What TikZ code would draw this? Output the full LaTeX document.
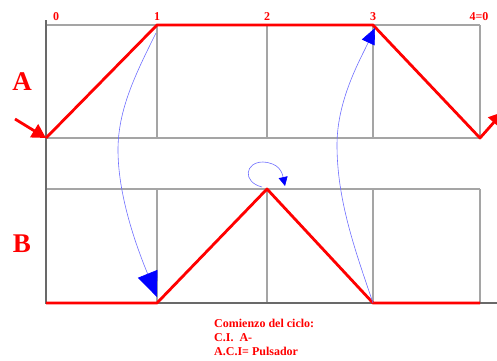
\documentclass[tikz,border=0pt]{standalone}
\usepackage{fontspec}
\setmainfont{Liberation Serif}
\usetikzlibrary{arrows.meta}
\definecolor{gridgray}{RGB}{165,165,165}
\definecolor{axisgray}{RGB}{105,105,105}
\definecolor{saltoblue}{RGB}{110,110,255}
\begin{document}
\begin{tikzpicture}[x=1pt,y=-1pt,>=stealth,
    rejilla/.style={gridgray,line width=1.3pt},
    eje/.style={axisgray,line width=1.8pt},
    fase/.style={red,line width=2.8pt,line join=round},
    salto/.style={saltoblue,line width=0.6pt},
    etapa/.style={red,font=\bfseries\fontsize{12}{13}\selectfont},
    letra/.style={red,font=\bfseries\fontsize{27}{30}\selectfont},
    nota/.style={red,font=\bfseries\fontsize{12}{14}\selectfont,align=left}]
  \useasboundingbox (0,0) rectangle (497,360);
  % puntos del diagrama
  \coordinate (A0) at (46,138);  \coordinate (A1) at (157,25);
  \coordinate (A3) at (373,25);  \coordinate (A4) at (480,138);
  \coordinate (B0) at (46,303);  \coordinate (B1) at (157,303);
  \coordinate (B2) at (267,189); \coordinate (B3) at (373,303);
  \coordinate (B4) at (480,303);
  % rejillas
  \foreach \x in {157,267,373,480} {
    \draw[rejilla] (\x,25) -- (\x,138);
    \draw[rejilla] (\x,189) -- (\x,303);
  }
  \draw[rejilla] (46,25) -- (480,25);
  \draw[rejilla] (46,138) -- (480,138);
  \draw[rejilla] (46,189) -- (480,189);
  \draw[eje] (46,20) -- (46,304);
  \draw[eje] (45,303) -- (497,303);
  % cilindro A
  \coordinate (ent) at (15,119);
  \coordinate (sal) at (503,112);
  \draw[fase,-{Triangle[length=14pt,width=15pt]}] (ent) -- (A0);
  \draw[fase,-{Triangle[length=14pt,width=15pt]}] (A0) -- (A1) -- (A3) -- (A4) -- (sal);
  % cilindro B
  \draw[fase] (B0) -- (B1) -- (B2) -- (B3) -- (B4);
  % saltos
  \draw[salto,-{Triangle[length=25pt,width=21pt,color=blue]}] (156,33)
    .. controls (135,75) and (118,110) .. (118,150)
    .. controls (118,200) and (140,255) .. (157,297);
  \draw[salto,-{Triangle[length=16pt,width=14pt,color=blue]}] (B3)
    .. controls (355,250) and (337,200) .. (337,145)
    .. controls (337,100) and (360,60) .. (375,28);
  \draw[salto,-{Triangle[length=9pt,width=9pt,color=blue]}] (262,187)
    .. controls (242,182) and (245,162) .. (263,162)
    .. controls (279,163) and (282,172) .. (285,186);
  % textos
  \node[etapa] (e0) at (56,17) {0};
  \node[etapa] (e1) at (157,17) {1};
  \node[etapa] (e2) at (267,17) {2};
  \node[etapa] (e3) at (373,17) {3};
  \node[etapa] (e4) at (479,17) {4=0};
  \node[letra] (la) at (22,82) {A};
  \node[letra] (lb) at (22,244) {B};
  \node[nota,anchor=north west,inner sep=0pt] (inicio) at (214,319)
    {Comienzo del ciclo:\\C.I.\ \ A-\\A.C.I= Pulsador};
\end{tikzpicture}
\end{document}
